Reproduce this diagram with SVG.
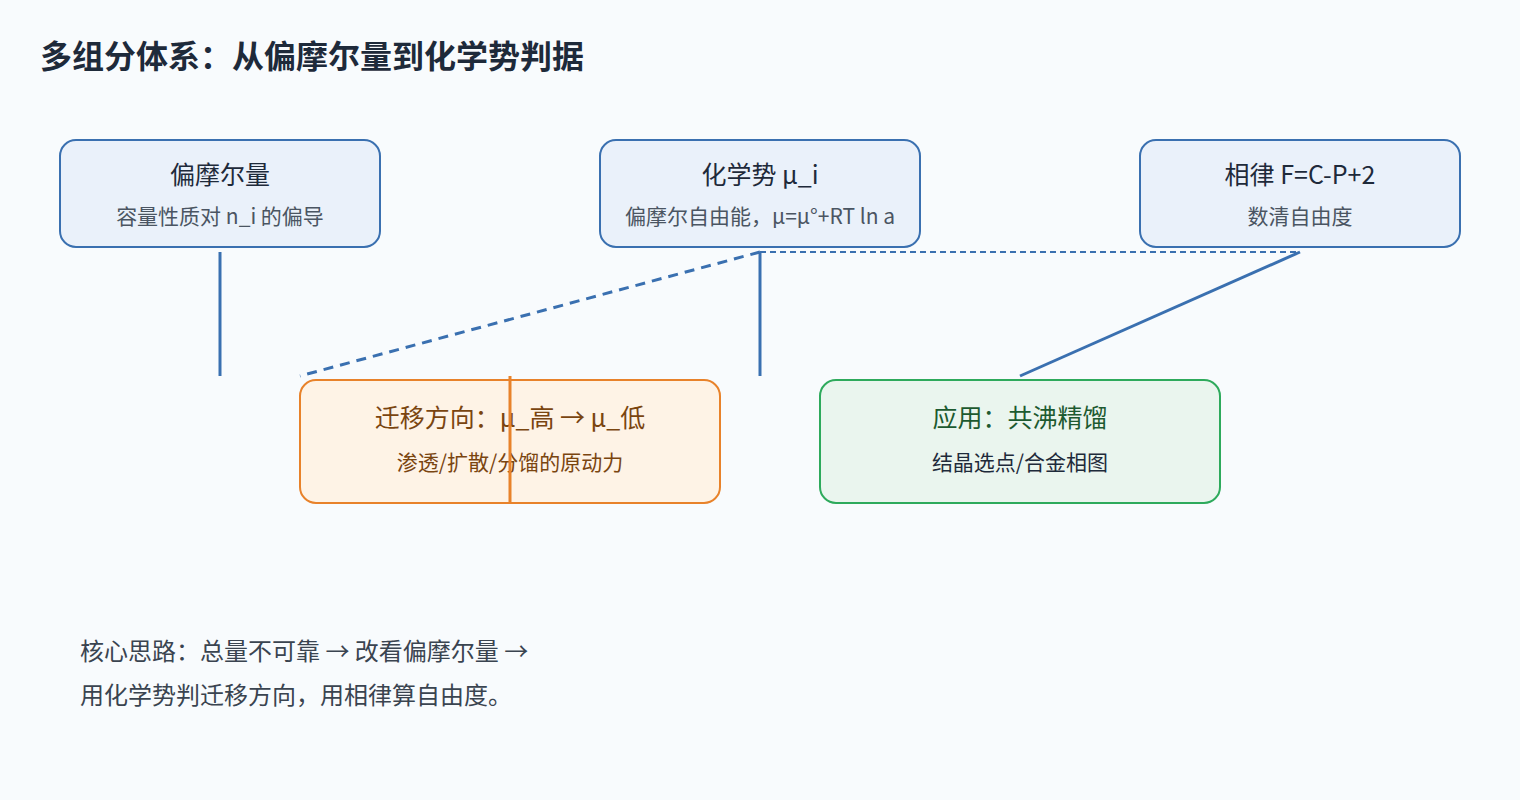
<svg xmlns="http://www.w3.org/2000/svg" width="1520" height="800" viewBox="0 0 1520 800">
<style>
text{font-family:"Noto Sans CJK SC","Noto Sans",sans-serif;text-anchor:middle}
.b{fill:#eaf1fa;stroke:#3a70b0;stroke-width:2}
.o{fill:#fef3e6;stroke:#e8822a;stroke-width:2}
.g{fill:#eaf5ee;stroke:#2eaa5c;stroke-width:2}
.t{font-size:25px;fill:#1e2a3a}
.s{font-size:21px;fill:#4a5562}
.c{stroke:#3a70b0;stroke-width:3;fill:none}
</style>
<rect width="1520" height="800" fill="#f8fbfd"/>
<text x="40" y="68" style="text-anchor:start;font-size:32px;font-weight:bold;fill:#1e2a3a">多组分体系：从偏摩尔量到化学势判据</text>
<g id="connectors">
<line class="c" x1="220" y1="252" x2="220" y2="376"/>
<line class="c" x1="760" y1="252" x2="760" y2="376"/>
<line class="c" x1="760" y1="252" x2="300" y2="376" stroke-dasharray="10 7"/>
<line x1="760" y1="252" x2="1300" y2="252" stroke="#3a70b0" stroke-width="2" stroke-dasharray="6 4"/>
<line class="c" x1="1300" y1="252" x2="1020" y2="376"/>
</g>
<g id="n1"><rect class="b" x="60" y="140" width="320" height="107" rx="16"/>
<text class="t" x="220" y="184">偏摩尔量</text><text class="s" x="220" y="224">容量性质对 n_i 的偏导</text></g>
<g id="n2"><rect class="b" x="600" y="140" width="320" height="107" rx="16"/>
<text class="t" x="760" y="184">化学势 μ_i</text><text class="s" x="760" y="224">偏摩尔自由能，μ=μ°+RT ln a</text></g>
<g id="n3"><rect class="b" x="1140" y="140" width="320" height="107" rx="16"/>
<text class="t" x="1300" y="184">相律 F=C-P+2</text><text class="s" x="1300" y="224">数清自由度</text></g>
<g id="n4"><rect class="o" x="300" y="380" width="420" height="123" rx="16"/>
<text class="t" x="510" y="427" style="fill:#7a4510">迁移方向：μ_高 → μ_低</text><text class="s" x="510" y="470" style="fill:#7a4510">渗透/扩散/分馏的原动力</text>
<line x1="510" y1="376" x2="510" y2="504" stroke="#e8822a" stroke-width="3"/></g>
<g id="n5"><rect class="g" x="820" y="380" width="400" height="123" rx="16"/>
<text class="t" x="1020" y="427" style="fill:#1d5a30">应用：共沸精馏</text><text class="s" x="1020" y="470" style="fill:#1e2a3a">结晶选点/合金相图</text></g>
<text x="80" y="660" style="text-anchor:start;font-size:24px;fill:#3a4450">核心思路：总量不可靠 → 改看偏摩尔量 →</text>
<text x="80" y="704" style="text-anchor:start;font-size:24px;fill:#3a4450">用化学势判迁移方向，用相律算自由度。</text>
</svg>
